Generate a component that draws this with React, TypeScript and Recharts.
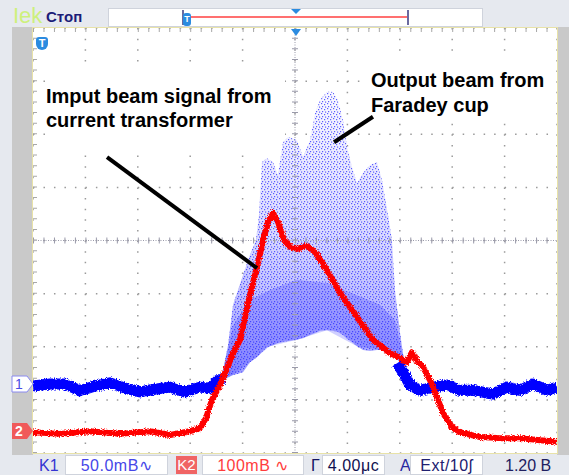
import React from "react";
import {
  ComposedChart,
  Line,
  Area,
  XAxis,
  YAxis,
  CartesianGrid,
  ReferenceLine,
  ReferenceArea,
} from "recharts";

// time axis in microseconds (4 us/div), level in screen divisions from centre
const timeTicks = [-20, -16, -12, -8, -4, 0, 4, 8, 12, 16, 20];
const divTicks = [-4, -3, -2, -1, 0, 1, 2, 3, 4];

// K2 - current transformer (red)
const redTime = [-20, -17.94, -15.65, -13.36, -11.07, -9.54, -8.02, -7.25, -6.79, -6.34, -5.73, -5.19, -4.73, -4.2, -3.44, -2.82, -2.44, -2.06, -1.68, -1.3, -0.84, -0.38, 0.15, 0.92, 1.53, 2.44, 3.44, 4.73, 5.95, 7.25, 8.02, 8.55, 8.93, 9.31, 9.77, 10.31, 10.84, 11.3, 11.98, 12.6, 14.12, 15.65, 17.18, 18.7, 20];
const redLevel = [-3.61, -3.64, -3.59, -3.64, -3.59, -3.66, -3.59, -3.53, -3.34, -3.0, -2.72, -2.4, -2.12, -1.87, -1.03, -0.42, 0.01, 0.35, 0.52, 0.35, 0.01, -0.12, -0.16, -0.1, -0.22, -0.56, -0.99, -1.44, -1.87, -2.12, -2.21, -2.29, -2.1, -2.27, -2.38, -2.63, -2.95, -3.25, -3.51, -3.61, -3.7, -3.72, -3.72, -3.76, -3.79];

// K1 - Faraday cup baseline (blue), before and after the pulse
const blueLeftTime = [-20, -18.7, -17.56, -16.41, -15.27, -14.12, -12.98, -11.83, -10.69, -9.54, -8.4, -7.25, -6.49, -5.88, -5.42];
const blueLeftLevel = [-2.74, -2.7, -2.7, -2.83, -2.74, -2.68, -2.78, -2.85, -2.8, -2.76, -2.85, -2.76, -2.78, -2.63, -2.59];
const blueRightTime = [7.79, 8.24, 8.78, 9.54, 10.53, 11.6, 12.6, 13.59, 15.11, 16.18, 17.18, 18.17, 19.24, 20];
const blueRightLevel = [-2.31, -2.48, -2.72, -2.82, -2.76, -2.72, -2.82, -2.82, -2.89, -2.76, -2.82, -2.7, -2.82, -2.76];

// K1 during the pulse: envelope of the dotted cloud
const cloudTime = [-5.57, -5.11, -4.73, -4.35, -3.97, -3.44, -2.98, -2.75, -2.52, -2.14, -1.68, -1.3, -0.92, -0.53, 0.15, 0.61, 1.15, 1.53, 1.91, 2.44, 2.9, 3.28, 3.66, 3.97, 4.35, 4.73, 5.19, 5.73, 6.26, 6.64, 7.1, 7.4, 7.63, 8.02, 8.32];
const cloudLow = [-2.65, -2.57, -2.53, -2.51, -2.48, -2.29, -2.21, -2.16, -2.1, -2.01, -1.97, -1.93, -1.91, -1.89, -1.87, -1.84, -1.78, -1.74, -1.7, -1.69, -1.7, -1.72, -1.78, -1.85, -1.91, -1.99, -2.06, -2.08, -2.06, -2.06, -2.1, -2.14, -2.19, -2.29, -2.4];
const cloudHigh = [-2.53, -1.97, -1.21, -0.93, -0.65, -0.27, 0.01, 0.48, 1.48, 1.55, 1.48, 1.23, 1.85, 1.95, 1.89, 1.57, 1.89, 2.4, 2.65, 2.8, 2.8, 2.65, 2.27, 1.76, 1.38, 1.08, 1.27, 1.42, 1.48, 1.14, 0.48, 0.01, -0.93, -1.74, -2.25];

// denser lower part of the cloud
const denseTime = [-5.57, -4.73, -3.44, -1.91, 0.15, 2.44, 4.73, 6.49, 7.63, 8.32];
const denseLow = [-2.65, -2.53, -2.29, -1.99, -1.87, -1.69, -1.99, -2.06, -2.19, -2.4];
const denseHigh = [-2.53, -1.6, -1.12, -0.93, -0.74, -0.8, -1.03, -1.21, -1.5, -2.25];

const toRows = (time: number[], level: number[]) =>
  time.map((t, i) => ({ t, v: level[i] }));
const toBand = (time: number[], low: number[], high: number[]) =>
  time.map((t, i) => ({ t, band: [low[i], high[i]] }));

const redData = toRows(redTime, redLevel);
const blueLeft = toRows(blueLeftTime, blueLeftLevel);
const blueRight = toRows(blueRightTime, blueRightLevel);
const cloudData = toBand(cloudTime, cloudLow, cloudHigh);
const denseData = toBand(denseTime, denseLow, denseHigh);

const FONT = '"Liberation Sans", Arial, sans-serif';

function Box({ left, width, children, color }: { left: number; width: number; children: React.ReactNode; color: string }) {
  return (
    <div
      style={{
        position: "absolute",
        left,
        top: 455,
        width,
        height: 20,
        background: "#ffffff",
        border: "1px solid #cfd3dc",
        boxSizing: "border-box",
        color,
        fontSize: 16,
        lineHeight: "19px",
        textAlign: "center",
        letterSpacing: 0.5,
      }}
    >
      {children}
    </div>
  );
}

function Label({ left, color, children }: { left: number; color: string; children: React.ReactNode }) {
  return (
    <div style={{ position: "absolute", left, top: 456, color, fontSize: 16, lineHeight: "19px" }}>
      {children}
    </div>
  );
}

export default function App() {
  return (
    <div
      style={{
        position: "absolute",
        left: 0,
        top: 0,
        width: 569,
        height: 475,
        background: "#e6e9ef",
        overflow: "hidden",
        fontFamily: FONT,
      }}
    >
      {/* side strips */}
      <div style={{ position: "absolute", left: 12, top: 27, width: 21, height: 428, background: "#c9c9c9" }} />
      <div style={{ position: "absolute", left: 557, top: 27, width: 12, height: 428, background: "#c9c9c9" }} />

      {/* top status bar */}
      <div style={{ position: "absolute", left: 13, top: 5, fontSize: 22, color: "#cdf07c", lineHeight: "22px" }}>Iek</div>
      <div style={{ position: "absolute", left: 46, top: 8, fontSize: 15, fontWeight: "bold", color: "#1c1c78", lineHeight: "18px" }}>
        Стоп
      </div>
      <div
        style={{
          position: "absolute",
          left: 108,
          top: 8,
          width: 375,
          height: 19,
          background: "#ffffff",
          border: "1px solid #cfd3dc",
          boxSizing: "border-box",
        }}
      />
      <div style={{ position: "absolute", left: 187, top: 16, width: 221, height: 2, background: "#ff7070" }} />
      <div style={{ position: "absolute", left: 407, top: 10, width: 2, height: 15, background: "#6a6aa0" }} />
      <div style={{ position: "absolute", left: 182, top: 10, width: 2, height: 15, background: "#6a6aa0" }} />
      <div
        style={{
          position: "absolute",
          left: 183,
          top: 13,
          width: 8,
          height: 13,
          background: "#2b8be0",
          borderRadius: 3,
          color: "#fff",
          fontSize: 9,
          fontWeight: "bold",
          textAlign: "center",
          lineHeight: "13px",
        }}
      >
        T
      </div>
      <div
        style={{
          position: "absolute",
          left: 291,
          top: 9,
          width: 0,
          height: 0,
          borderLeft: "5px solid transparent",
          borderRight: "5px solid transparent",
          borderTop: "5px solid #2b8be0",
        }}
      />

      {/* screen */}
      <div
        style={{
          position: "absolute",
          left: 32,
          top: 27,
          width: 526,
          height: 427,
          background: "#ffffff",
          border: "1px solid #e8e2a8",
          boxSizing: "border-box",
        }}
      />
      <div style={{ position: "absolute", left: 33, top: 28 }}>
        <ComposedChart width={524} height={425} margin={{ top: 0, right: 0, bottom: 0, left: 0 }}>
          <defs>
            <linearGradient id="cloudGrad" x1="0" y1="0" x2="0" y2="1">
              <stop offset="0%" stopColor="#fafaff" />
              <stop offset="50%" stopColor="#dadaff" />
              <stop offset="100%" stopColor="#9c9cff" />
            </linearGradient>
            <pattern id="cloudDots" width="6" height="5" patternUnits="userSpaceOnUse">
              <rect x="0" y="0" width="1.2" height="1.2" fill="#2a2aff" />
              <rect x="3" y="1" width="1.2" height="1.2" fill="#2a2aff" />
              <rect x="1" y="3" width="1.2" height="1.2" fill="#2a2aff" />
              <rect x="4" y="3.5" width="1.2" height="1.2" fill="#2a2aff" />
            </pattern>
            <filter id="noisy" filterUnits="userSpaceOnUse" x="-50" y="-50" width="650" height="550">
              <feTurbulence type="fractalNoise" baseFrequency="0.8" numOctaves="1" seed="4" result="n" />
              <feDisplacementMap in="SourceGraphic" in2="n" scale="5" xChannelSelector="R" yChannelSelector="G" />
            </filter>
          </defs>
          <XAxis type="number" dataKey="t" domain={[-20, 20]} ticks={timeTicks} hide allowDataOverflow />
          <YAxis type="number" domain={[-4, 4]} ticks={divTicks} hide allowDataOverflow />
          <CartesianGrid horizontal={false} stroke="#9a9a9a" strokeWidth={1.5} strokeDasharray="1.5 9.125" />
          <CartesianGrid vertical={false} stroke="#9a9a9a" strokeWidth={1.5} strokeDasharray="1.5 8.98" />
          <ReferenceLine x={0} stroke="#9a9aaa" strokeDasharray="1 1.5" />
          <ReferenceLine y={0} stroke="#9a9aaa" strokeDasharray="1 1.5" />
          <ReferenceLine x={0} stroke="#9a9aaa" strokeWidth={6} strokeDasharray="1 9.625" />
          <ReferenceLine y={0} stroke="#9a9aaa" strokeWidth={6} strokeDasharray="1 9.48" />
          <ReferenceLine y={4} stroke="#a8a8a8" strokeWidth={8} strokeDasharray="1 9.48" />
          <ReferenceLine x={-20} stroke="#a8a8a8" strokeWidth={8} strokeDasharray="1 9.625" />

          {/* white label backgrounds */}
          <ReferenceArea x1={-19.08} x2={-0.76} y1={1.67} y2={3.32} fill="#ffffff" fillOpacity={1} stroke="none" ifOverflow="visible" />
          <ReferenceArea x1={5.11} x2={19.85} y1={2.23} y2={3.4} fill="#ffffff" fillOpacity={1} stroke="none" ifOverflow="visible" />

          <Area data={cloudData} dataKey="band" type="linear" stroke="none" fill="url(#cloudGrad)" fillOpacity={1} isAnimationActive={false} />
          <Area data={cloudData} dataKey="band" type="linear" stroke="none" fill="url(#cloudDots)" fillOpacity={0.75} isAnimationActive={false} />
          <Area data={denseData} dataKey="band" type="linear" stroke="none" fill="#2a2aff" fillOpacity={0.22} isAnimationActive={false} />
          <Line data={blueLeft} dataKey="v" type="linear" stroke="#0000ff" strokeWidth={11} dot={false} strokeLinejoin="round" filter="url(#noisy)" isAnimationActive={false} />
          <Line data={blueRight} dataKey="v" type="linear" stroke="#0000ff" strokeWidth={11} dot={false} strokeLinejoin="round" filter="url(#noisy)" isAnimationActive={false} />
          <Line data={redData} dataKey="v" type="linear" stroke="#ff0000" strokeWidth={6} dot={false} strokeLinejoin="round" filter="url(#noisy)" isAnimationActive={false} />

          {/* annotation pointers */}
          <ReferenceLine segment={[{ x: -14.35, y: 1.57 }, { x: -2.9, y: -0.52 }]} stroke="#000000" strokeWidth={4} ifOverflow="visible" />
          <ReferenceLine segment={[{ x: 2.98, y: 1.85 }, { x: 5.95, y: 2.33 }]} stroke="#000000" strokeWidth={4} ifOverflow="visible" />
        </ComposedChart>
      </div>

      {/* trigger markers on the screen */}
      <div
        style={{
          position: "absolute",
          left: 291,
          top: 29,
          width: 0,
          height: 0,
          borderLeft: "5px solid transparent",
          borderRight: "5px solid transparent",
          borderTop: "7px solid #2b8be0",
        }}
      />
      <div
        style={{
          position: "absolute",
          left: 36,
          top: 37,
          width: 12,
          height: 13,
          background: "#2b8be0",
          borderRadius: "3px 3px 6px 6px",
          color: "#fff",
          fontSize: 11,
          fontWeight: "bold",
          textAlign: "center",
          lineHeight: "13px",
        }}
      >
        T
      </div>

      {/* channel markers */}
      <svg style={{ position: "absolute", left: 11, top: 375 }} width={24} height={70}>
        <polygon points="1,1 16,1 22,9 16,17 1,17" fill="#ffffff" stroke="#8a8af0" strokeWidth={1} />
        <text x={8} y={14} fontSize={14} fill="#4a4ae6" fontFamily={FONT} textAnchor="middle">1</text>
        <polygon points="1,48 16,48 22,56 16,64 1,64" fill="#f05a5a" />
        <text x={8} y={61} fontSize={14} fontWeight="bold" fill="#ffffff" fontFamily={FONT} textAnchor="middle">2</text>
      </svg>

      {/* annotations */}
      <div
        style={{
          position: "absolute",
          left: 46,
          top: 84,
          fontSize: 20,
          fontWeight: "bold",
          lineHeight: "24px",
          color: "#000",
          whiteSpace: "nowrap",
        }}
      >
        Imput beam signal from
        <br />
        current transformer
      </div>
      <div
        style={{
          position: "absolute",
          left: 371,
          top: 68,
          fontSize: 20,
          fontWeight: "bold",
          lineHeight: "25px",
          color: "#000",
          whiteSpace: "nowrap",
        }}
      >
        Output beam from
        <br />
        Faradey cup
      </div>

      {/* bottom settings bar */}
      <Label left={39} color="#3434d2">K1</Label>
      <Box left={65} width={103} color="#4646e8">50.0mB∿</Box>
      <div
        style={{
          position: "absolute",
          left: 176,
          top: 456,
          width: 21,
          height: 18,
          background: "#f06464",
          color: "#ffffff",
          fontSize: 15,
          lineHeight: "18px",
          textAlign: "center",
        }}
      >
        K2
      </div>
      <Box left={202} width={102} color="#ff3c3c">100mB ∿</Box>
      <Label left={311} color="#141460">Γ</Label>
      <Box left={322} width={63} color="#101050">4.00μc</Box>
      <Label left={400} color="#2828a0">A</Label>
      <Box left={410} width={73} color="#202070">Ext/10ʃ</Box>
      <Label left={505} color="#202060">1.20 B</Label>
    </div>
  );
}
